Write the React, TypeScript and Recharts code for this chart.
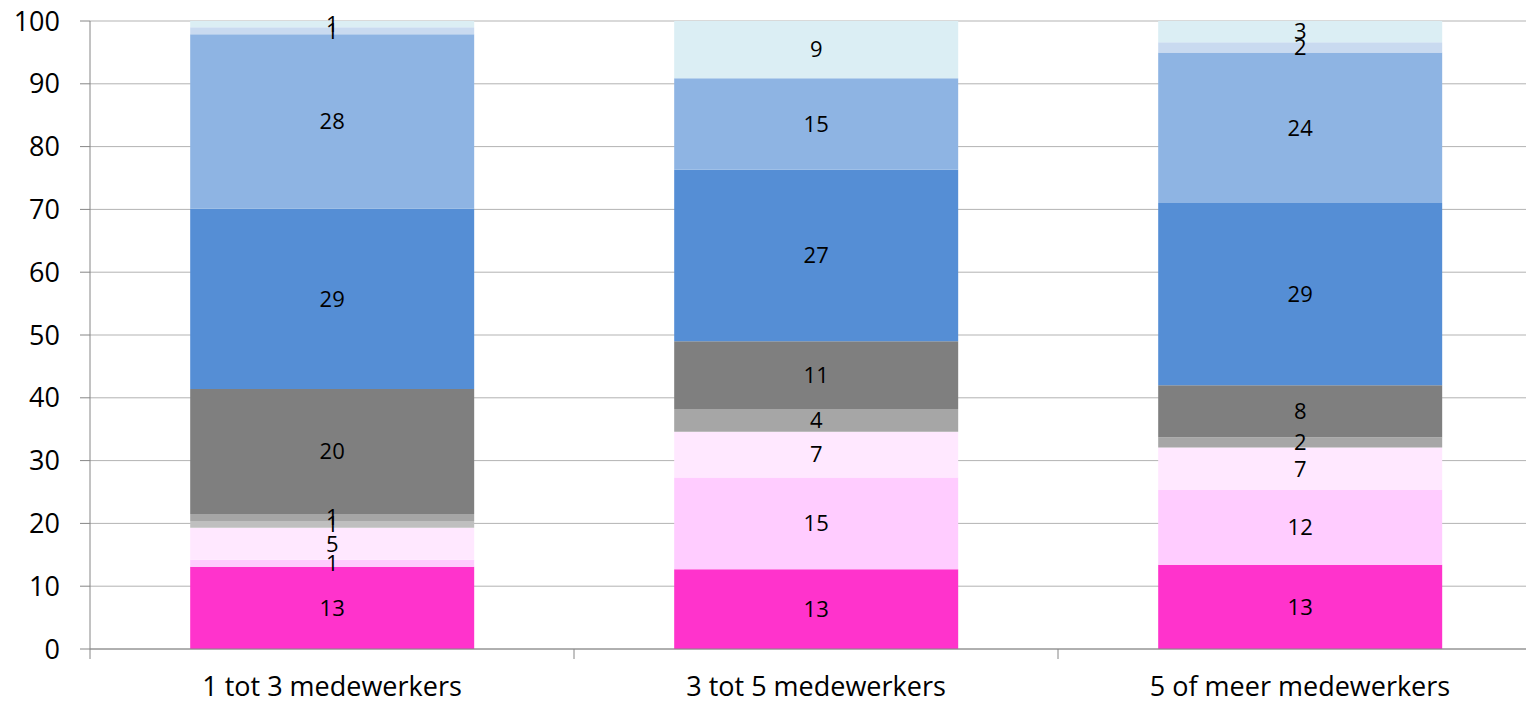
import React from 'react';
import { BarChart, Bar, XAxis, YAxis, CartesianGrid, LabelList } from 'recharts';

// categorieen en waarden (procenten), van onder naar boven gestapeld
const categories = ['1 tot 3 medewerkers', '3 tot 5 medewerkers', '5 of meer medewerkers'];
const roze = [13.1, 12.7, 13.4];
const lichtroze = [1.1, 14.6, 11.9];
const bleekroze = [5.1, 7.3, 6.8];
const lichtgrijs = [1.1, 0, 0];
const grijs = [1.1, 3.6, 1.6];
const donkergrijs = [19.9, 10.8, 8.3];
const blauw = [28.7, 27.3, 29.0];
const lichtblauw = [27.8, 14.6, 24.0];
const lavendel = [1.1, 0, 1.6];
const cyaan = [1.0, 9.1, 3.4];
const yTicks = [0, 10, 20, 30, 40, 50, 60, 70, 80, 90, 100];

const series = [
  { key: 'roze', values: roze, color: '#ff33cc' },
  { key: 'lichtroze', values: lichtroze, color: '#ffccff' },
  { key: 'bleekroze', values: bleekroze, color: '#ffe8ff' },
  { key: 'lichtgrijs', values: lichtgrijs, color: '#bfbfbf' },
  { key: 'grijs', values: grijs, color: '#a6a6a6' },
  { key: 'donkergrijs', values: donkergrijs, color: '#7f7f7f' },
  { key: 'blauw', values: blauw, color: '#558ed5' },
  { key: 'lichtblauw', values: lichtblauw, color: '#8eb4e3' },
  { key: 'lavendel', values: lavendel, color: '#c9daf0' },
  { key: 'cyaan', values: cyaan, color: '#dbeef4' },
];

const data = categories.map((name, i) => {
  const row: Record<string, any> = { name };
  series.forEach(s => { row[s.key] = s.values[i]; });
  return row;
});

const fmt = (v: any) => (v ? Math.round(Number(v)) : '');

const TICK_MARGIN = 28;

// label + tickje op de grens tussen categorieen (zoals Excel)
const CatTick = (props: any) => {
  const { x, y, payload, index, visibleTicksCount } = props;
  const half = payload && payload.offset ? payload.offset : 0;
  const axisY = y - TICK_MARGIN;
  return (
    <g>
      {half > 0 && <line x1={x - half} x2={x - half} y1={axisY} y2={axisY + 10} stroke="#868686" />}
      {half > 0 && index === visibleTicksCount - 1 && (
        <line x1={x + half} x2={x + half} y1={axisY} y2={axisY + 10} stroke="#868686" />
      )}
      <text x={x} y={y} dy="0.71em" textAnchor="middle" fontSize={27} fill="#000">{payload.value}</text>
    </g>
  );
};

const App: React.FC = () => {
  return (
    <div style={{ position: 'absolute', left: 0, top: 0, width: 1526, height: 703, overflow: 'hidden', background: '#fff', fontFamily: '"Open Sans", sans-serif' }}>
      <BarChart width={1560} height={703} data={data} margin={{ top: 21, right: 18, bottom: 0, left: 0 }} barCategoryGap="20.7%">
        <CartesianGrid vertical={false} stroke="#b3b3b3" />
        <XAxis
          dataKey="name"
          interval={0}
          height={54}
          tickLine={false}
          tickSize={0}
          tickMargin={TICK_MARGIN}
          axisLine={{ stroke: '#868686' }}
          tick={<CatTick />}
        />
        <YAxis
          width={90}
          domain={[0, 100]}
          ticks={yTicks}
          tickSize={10}
          tickMargin={20}
          axisLine={{ stroke: '#868686' }}
          tickLine={{ stroke: '#868686' }}
          tick={{ fontSize: 27, fill: '#000' }}
        />
        {series.map(s => (
          <Bar key={s.key} dataKey={s.key} stackId="a" fill={s.color} isAnimationActive={false}>
            <LabelList dataKey={s.key} position="center" formatter={fmt} fill="#000" fontSize={22} />
          </Bar>
        ))}
      </BarChart>
    </div>
  );
};

export default App;
